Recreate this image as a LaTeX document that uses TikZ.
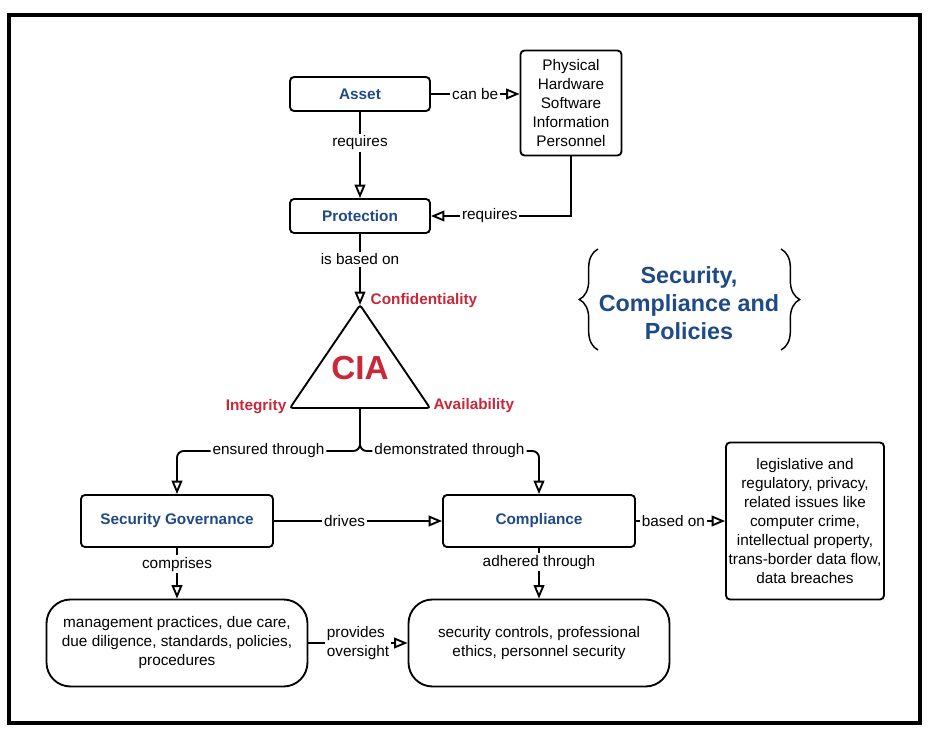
\documentclass[tikz,border=0pt]{standalone}
\usepackage{fontspec}
\setmainfont{Liberation Sans}
\usetikzlibrary{arrows.meta,decorations.pathreplacing}
\definecolor{titleblue}{HTML}{1F4A85}
\definecolor{ciared}{HTML}{C8283A}

\begin{document}
\begin{tikzpicture}[
  x=0.75pt, y=-0.75pt,
  font=\fontsize{11.5}{14.25}\selectfont,
  box/.style={draw, line width=1.4pt, rounded corners=3pt, align=center, inner sep=2pt},
  keybox/.style={box, font=\fontsize{11.5}{14}\selectfont\bfseries, text=titleblue},
  softbox/.style={box, rounded corners=18pt, minimum width=195.75pt, minimum height=65.25pt},
  arrow/.style={-{Triangle[open,length=10pt,width=8pt]}, line width=1.4pt},
  lbl/.style={fill=white, inner sep=1.5pt},
  vertex/.style={font=\fontsize{11.5}{14}\selectfont\bfseries, text=ciared}
]
\useasboundingbox (0,0) rectangle (936,730);
\draw[line width=2.3pt] (9,15) rectangle (920,723);

\node[keybox, minimum width=105pt, minimum height=25.5pt] (asset) at (360,94) {Asset};
\node[box, minimum width=75.75pt, minimum height=78.75pt] (kinds) at (571,103) {Physical\\Hardware\\Software\\Information\\Personnel};
\node[keybox, minimum width=105pt, minimum height=25.5pt] (protect) at (360,216) {Protection};

\coordinate (apex) at (360,305);
\coordinate (triL) at (290,408);
\coordinate (triR) at (430,408);
\coordinate (triB) at (360,408);
\coordinate (split) at (360,451);
\draw[line width=1.4pt, rounded corners=2pt] (apex) -- (triR) -- (triL) -- cycle;
\node[text=ciared, font=\fontsize{25}{30}\selectfont\bfseries] (cia) at (360,368) {CIA};
\node[vertex, anchor=west] (conf) at (366,301) {Confidentiality};
\node[vertex, anchor=east] (integ) at (291,407) {Integrity};
\node[vertex, anchor=west] (avail) at (429,406) {Availability};

\node[font=\fontsize{17.5}{21}\selectfont\bfseries, text=titleblue, align=center] (title) at (689,303) {Security,\\Compliance and\\Policies};
\draw[decorate, decoration={brace, amplitude=14pt}, line width=1.1pt] (598,350) -- (598,249);
\draw[decorate, decoration={brace, amplitude=14pt}, line width=1.1pt] (781,249) -- (781,350);

\node[keybox, minimum width=144pt, minimum height=39pt] (gov) at (177,521) {Security Governance};
\node[keybox, minimum width=144pt, minimum height=39pt] (comp) at (539,521) {Compliance};
\node[box, minimum width=118.5pt, minimum height=117.75pt] (law) at (805,521) {legislative and\\regulatory, privacy,\\related issues like\\computer crime,\\intellectual property,\\trans-border data flow,\\data breaches};
\node[softbox] (practice) at (177,643) {management practices, due care,\\due diligence, standards, policies,\\procedures};
\node[softbox] (controls) at (539,643) {security controls, professional\\ethics, personnel security};

\draw[arrow] (asset) -- node[lbl, pos=0.36] {requires} (protect);
\draw[arrow] (asset.east) -- node[lbl] {can be} (asset.east -| kinds.west);
\draw[arrow] (kinds.south) |- node[lbl, pos=0.79] {requires} (protect.east);
\draw[arrow] (protect) -- node[lbl, pos=0.36] {is based on} (apex);
\draw[arrow, rounded corners=5pt] (triB) -- (split) -| node[lbl, pos=0.25] {ensured through} (gov.north);
\draw[arrow, rounded corners=5pt] (triB) -- (split) -| node[lbl, pos=0.25] {demonstrated through} (comp.north);
\draw[arrow] (gov) -- node[lbl, pos=0.42] {drives} (comp);
\draw[arrow] (comp) -- node[lbl, pos=0.42] {based on} (law);
\draw[arrow] (gov) -- node[lbl, pos=0.32] {comprises} (practice);
\draw[arrow] (comp) -- node[lbl, pos=0.28] {adhered through} (controls);
\draw[arrow] (practice) -- node[lbl, align=left] {provides\\oversight} (controls);
\end{tikzpicture}
\end{document}
